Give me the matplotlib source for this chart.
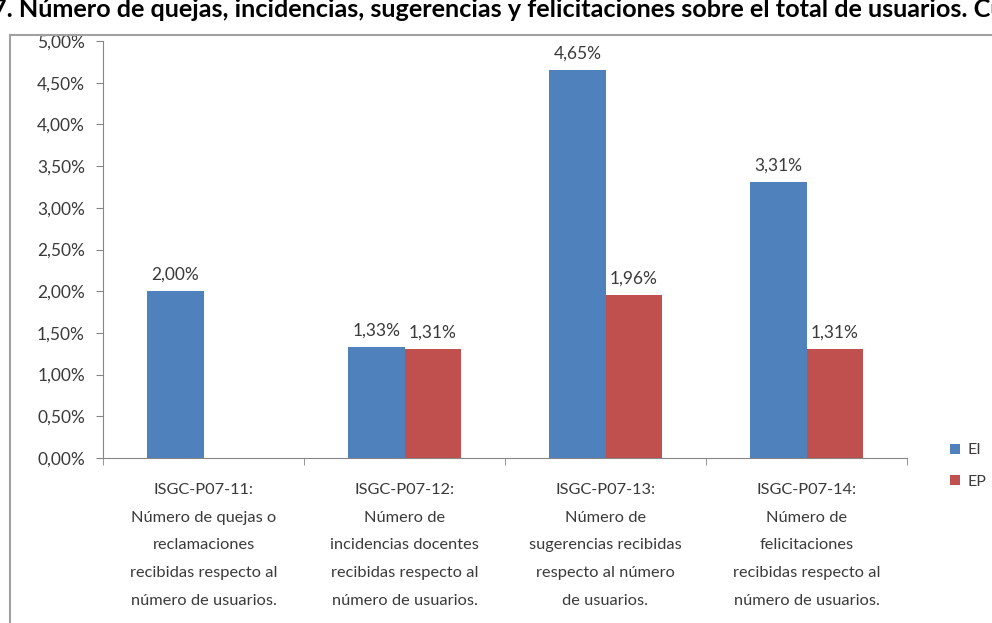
import numpy as np
import matplotlib.pyplot as plt
from matplotlib.lines import Line2D

plt.rcParams['font.family'] = ['Lato', 'DejaVu Sans']

# data
categories = ['ISGC-P07-11:\nNúmero de quejas o\nreclamaciones\nrecibidas respecto al\nnúmero de usuarios.',
              'ISGC-P07-12:\nNúmero de\nincidencias docentes\nrecibidas respecto al\nnúmero de usuarios.',
              'ISGC-P07-13:\nNúmero de\nsugerencias recibidas\nrespecto al número\nde usuarios.',
              'ISGC-P07-14:\nNúmero de\nfelicitaciones\nrecibidas respecto al\nnúmero de usuarios.']
ei_values = [2.00, 1.33, 4.65, 3.31]
ep_values = [np.nan, 1.31, 1.96, 1.31]
series_names = ['EI', 'EP']
title = '7. Número de quejas, incidencias, sugerencias y felicitaciones sobre el total de usuarios. Cu'

blue = '#4F81BD'
red = '#C0504D'
text_col = '#3A3A3A'
axis_col = '#868686'

fig = plt.figure(figsize=(9.92, 6.23), dpi=100)
ax = fig.add_axes([103 / 992, 1 - 458 / 623, 804 / 992, 417 / 623])

x = np.arange(len(categories))
w = 0.28
bars_ei = ax.bar(x - w / 2, ei_values, w, color=blue, label=series_names[0])
bars_ep = ax.bar(x + w / 2, ep_values, w, color=red, label=series_names[1])

def fmt(v):
    return f'{v:.2f}'.replace('.', ',') + '%'

for bars, vals in [(bars_ei, ei_values), (bars_ep, ep_values)]:
    for b, v in zip(bars, vals):
        if np.isnan(v):
            continue
        ax.annotate(fmt(v), (b.get_x() + b.get_width() / 2, v), xytext=(0, 6),
                    textcoords='offset points', ha='center', va='bottom',
                    fontsize=12.5, color=text_col)

ax.set_xlim(-0.5, len(categories) - 0.5)
ax.set_ylim(0, 5)
yt = np.arange(0, 5.01, 0.5)
ax.set_yticks(yt)
ax.set_yticklabels([fmt(v) for v in yt], fontsize=12.5, color=text_col)
ax.set_xticks(x)
ax.set_xticklabels(categories, fontsize=11.8, color=text_col, linespacing=2.24)
ax.tick_params(axis='x', length=0, pad=18)
ax.set_xticks(np.arange(-0.5, len(categories)), minor=True)
ax.tick_params(axis='x', which='minor', length=5, color=axis_col)
ax.tick_params(axis='y', length=5, color=axis_col, pad=8)

for s in ['top', 'right']:
    ax.spines[s].set_visible(False)
for s in ['left', 'bottom']:
    ax.spines[s].set_color(axis_col)

leg = ax.legend(loc='center left', bbox_to_anchor=(936 / 992, 1 - 466 / 623),
                bbox_transform=fig.transFigure, frameon=False, fontsize=11.5,
                handlelength=0.6, handleheight=0.6, labelspacing=1.1, handletextpad=0.5)
for t in leg.get_texts():
    t.set_color(text_col)

# chart border
fig.add_artist(Line2D([10 / 992, 10 / 992], [0, 1 - 35 / 623], color='#A0A0A0', lw=1.5))
fig.add_artist(Line2D([10 / 992, 1], [1 - 35 / 623, 1 - 35 / 623], color='#A0A0A0', lw=1.5))

fig.text(-8 / 992, 1 - 17 / 623, title, fontsize=18.2, fontweight='bold',
         ha='left', va='baseline', color='black')

plt.savefig('out.png', dpi=100)
